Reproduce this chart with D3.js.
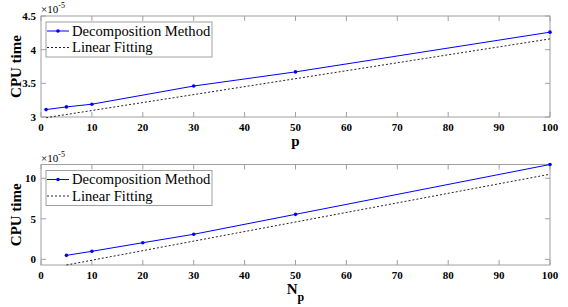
<!DOCTYPE html>
<html>
<head>
<meta charset="utf-8">
<script src="https://d3js.org/d3.v7.min.js"></script>
<style>
  body { margin: 0; background: #fff; }
</style>
</head>
<body>
<svg id="canvas" width="568" height="307"></svg>
<script>
// top panel: CPU time vs p (units of 1e-5)
var pVals = [1, 5, 10, 30, 50, 100];
var pTime = [3.11, 3.15, 3.19, 3.46, 3.67, 4.26];
var pFitX = [1, 100];
var pFitY = [2.99, 4.16];
var pYTicks = [3, 3.5, 4, 4.5];

// bottom panel: CPU time vs Np
var npVals = [5, 10, 20, 30, 50, 100];
var npTime = [0.49, 0.99, 2.05, 3.09, 5.55, 11.7];
var npFitX = [5, 100];
var npFitY = [-0.7, 10.5];
var npYTicks = [0, 5, 10];

var xTicks = [0, 10, 20, 30, 40, 50, 60, 70, 80, 90, 100];
var legendNames = ["Decomposition Method", "Linear Fitting"];

var svg = d3.select("#canvas");
var font = "Liberation Serif";
var axisColor = "#a0a0a0";

function txt(g) {
  return g.append("text").attr("font-family", font);
}

function panel(opts) {
  var x = d3.scaleLinear().domain([0, 100]).range([41, 550]);
  var y = d3.scaleLinear().domain(opts.yDomain).range([opts.bottom, opts.top]);
  var g = svg.append("g");

  // box
  g.append("rect")
    .attr("x", 41).attr("y", opts.top)
    .attr("width", 509).attr("height", opts.bottom - opts.top)
    .attr("fill", "none").attr("stroke", axisColor).attr("stroke-width", 1);

  // x ticks (inside, bottom and top)
  xTicks.forEach(function(t) {
    g.append("line").attr("x1", x(t)).attr("x2", x(t))
      .attr("y1", opts.bottom).attr("y2", opts.bottom - 5)
      .attr("stroke", axisColor);
    g.append("line").attr("x1", x(t)).attr("x2", x(t))
      .attr("y1", opts.top).attr("y2", opts.top + 5)
      .attr("stroke", axisColor);
    txt(g).attr("x", x(t)).attr("y", opts.bottom + 14)
      .attr("text-anchor", "middle").attr("font-size", 11).attr("font-weight", "bold")
      .text(t);
  });

  opts.yTicks.forEach(function(t) {
    g.append("line").attr("x1", 41).attr("x2", 46)
      .attr("y1", y(t)).attr("y2", y(t)).attr("stroke", axisColor);
    g.append("line").attr("x1", 550).attr("x2", 545)
      .attr("y1", y(t)).attr("y2", y(t)).attr("stroke", axisColor);
    txt(g).attr("x", 36).attr("y", y(t) + 4)
      .attr("text-anchor", "end").attr("font-size", 11).attr("font-weight", "bold")
      .text(t);
  });

  // exponent
  var ex = txt(g).attr("x", 41).attr("y", opts.top - 3).attr("font-size", 11);
  ex.append("tspan").text("\u00d710");
  ex.append("tspan").attr("dy", -5).attr("font-size", 8).text("-5");

  // y label
  txt(g)
    .attr("transform", "translate(21," + (opts.top + opts.bottom) / 2 + ") rotate(-90)")
    .attr("text-anchor", "middle").attr("font-size", 15).attr("font-weight", "bold")
    .text("CPU time");

  // x label
  var xl = txt(g).attr("x", 295.5).attr("y", opts.bottom + 29)
    .attr("text-anchor", "middle").attr("font-size", 15).attr("font-weight", "bold");
  if (opts.sub) {
    xl.append("tspan").text("N");
    xl.append("tspan").attr("dy", 7).attr("font-size", 12).text("p");
  } else {
    xl.text("p");
  }

  // fit line
  var fit = d3.range(opts.fitX.length).map(function(i) { return [opts.fitX[i], opts.fitY[i]]; });
  var line = d3.line().x(function(d) { return x(d[0]); }).y(function(d) { return y(d[1]); });
  g.append("path").attr("d", line(fit))
    .attr("fill", "none").attr("stroke", "#222").attr("stroke-width", 1)
    .attr("stroke-dasharray", "2,2");

  var pts = d3.range(opts.xs.length).map(function(i) { return [opts.xs[i], opts.ys[i]]; });
  g.append("path").attr("d", line(pts))
    .attr("fill", "none").attr("stroke", "#0000ff").attr("stroke-width", 1);
  g.selectAll(".pt").data(pts).enter().append("circle")
    .attr("cx", function(d) { return x(d[0]); })
    .attr("cy", function(d) { return y(d[1]); })
    .attr("r", 1.8).attr("fill", "#0000ff");

  // legend
  var lx = 46, ly = opts.top + 6;
  g.append("rect").attr("x", lx).attr("y", ly).attr("width", 166).attr("height", 35)
    .attr("fill", "#fff").attr("stroke", axisColor);
  g.append("line").attr("x1", lx + 1).attr("x2", lx + 23)
    .attr("y1", ly + 9).attr("y2", ly + 9).attr("stroke", "#0000ff");
  g.append("circle").attr("cx", lx + 12).attr("cy", ly + 9).attr("r", 1.8).attr("fill", "#0000ff");
  g.append("line").attr("x1", lx + 1).attr("x2", lx + 23)
    .attr("y1", ly + 25.5).attr("y2", ly + 25.5).attr("stroke", "#222")
    .attr("stroke-dasharray", "2,2");
  legendNames.forEach(function(n, i) {
    txt(g).attr("x", lx + 26).attr("y", ly + 13.5 + i * 16.5)
      .attr("font-size", 14.6).text(n);
  });
}

panel({ top: 16, bottom: 117, yDomain: [3, 4.5], yTicks: pYTicks,
  xs: pVals, ys: pTime, fitX: pFitX, fitY: pFitY, sub: false });
panel({ top: 164.5, bottom: 265, yDomain: [-0.7, 11.7], yTicks: npYTicks,
  xs: npVals, ys: npTime, fitX: npFitX, fitY: npFitY, sub: true });
</script>
</body>
</html>
